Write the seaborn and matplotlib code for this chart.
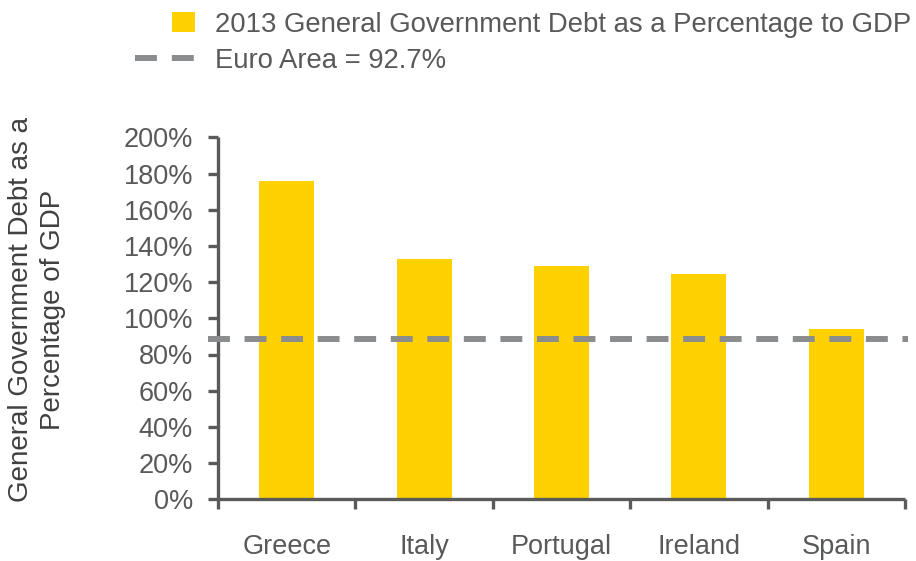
import matplotlib
matplotlib.use("Agg")
import matplotlib.pyplot as plt
import seaborn as sns
import pandas as pd
from matplotlib.lines import Line2D
from matplotlib.patches import Rectangle, Patch
from matplotlib.legend_handler import HandlerPatch

countries = ["Greece", "Italy", "Portugal", "Ireland", "Spain"]
debt_pct = [176.0, 133.0, 128.7, 124.3, 94.3]
euro_area_line = 88.5
euro_label = "Euro Area = 92.7%"
bar_label = "2013 General Government Debt as a Percentage to GDP"
y_ticks = [0, 20, 40, 60, 80, 100, 120, 140, 160, 180, 200]
y_tick_labels = [f"{v}%" for v in y_ticks]
y_title = "General Government Debt as a\nPercentage of GDP"

BAR = "#FFD100"
DASH = "#8A8C8E"
AX = "#5A5A5A"
TXT = "#58595B"

sns.set_theme(style="white")
plt.rcParams["font.family"] = ["Liberation Sans", "DejaVu Sans"]

fig = plt.figure(figsize=(9.16, 5.61), dpi=100)
ax = fig.add_axes([218/916, (561-499.3)/561, (905-218)/916, (499.3-137.3)/561])

df = pd.DataFrame({"country": countries, "debt": debt_pct})
sns.barplot(data=df, x="country", y="debt", color=BAR, width=0.40,
            saturation=1, ax=ax, edgecolor="none")

ax.axhline(euro_area_line, xmin=-0.015, xmax=1.004, clip_on=False,
           color=DASH, lw=4.3, dashes=(3.67, 2.45), dash_capstyle="butt", zorder=5)

ax.set_xlim(-0.5, 4.5)
ax.set_ylim(0, 200)
ax.set_yticks(y_ticks)
ax.set_yticklabels(y_tick_labels)
ax.set_xlabel("")
ax.set_ylabel("")

for s in ["top", "right"]:
    ax.spines[s].set_visible(False)
for s in ["left", "bottom"]:
    ax.spines[s].set_color(AX)
    ax.spines[s].set_linewidth(2.4)
    ax.spines[s].set_capstyle("butt")

ax.tick_params(axis="y", direction="out", length=7, width=2.4, color=AX,
               labelsize=19.5, labelcolor=TXT, pad=11, left=True)
ax.tick_params(axis="x", length=0, labelsize=19.5, labelcolor=TXT, pad=25)
ax.set_xticks([i - 0.5 for i in range(len(countries) + 1)], minor=True)
ax.tick_params(axis="x", which="minor", direction="out", length=7, width=2.4,
               color=AX, bottom=True)

fig.text(37/916, (561-310)/561, y_title, rotation=90, ha="center", va="center",
         multialignment="center", fontsize=20, color="#404040", linespacing=1.3)


def square_patch(legend, orig_handle, xdescent, ydescent, width, height, fontsize):
    w, h = 16.6, 14.4
    return Rectangle((width - w - xdescent, (height - h) / 2 - ydescent), w, h)


handles = [
    Patch(facecolor=BAR, edgecolor="none"),
    Line2D([0], [0], color=DASH, lw=4.3, dashes=(3.67, 2.5), dash_capstyle="butt"),
]
fig.legend(handles, [bar_label, euro_label], loc="upper left",
           bbox_to_anchor=(135/916, 1 - 12/561), frameon=False, fontsize=19.8,
           labelcolor=TXT, handlelength=2.18, handletextpad=0.73, labelspacing=0.36,
           borderaxespad=0, borderpad=0,
           handler_map={Patch: HandlerPatch(patch_func=square_patch)})

fig.savefig("out.png", dpi=100)
